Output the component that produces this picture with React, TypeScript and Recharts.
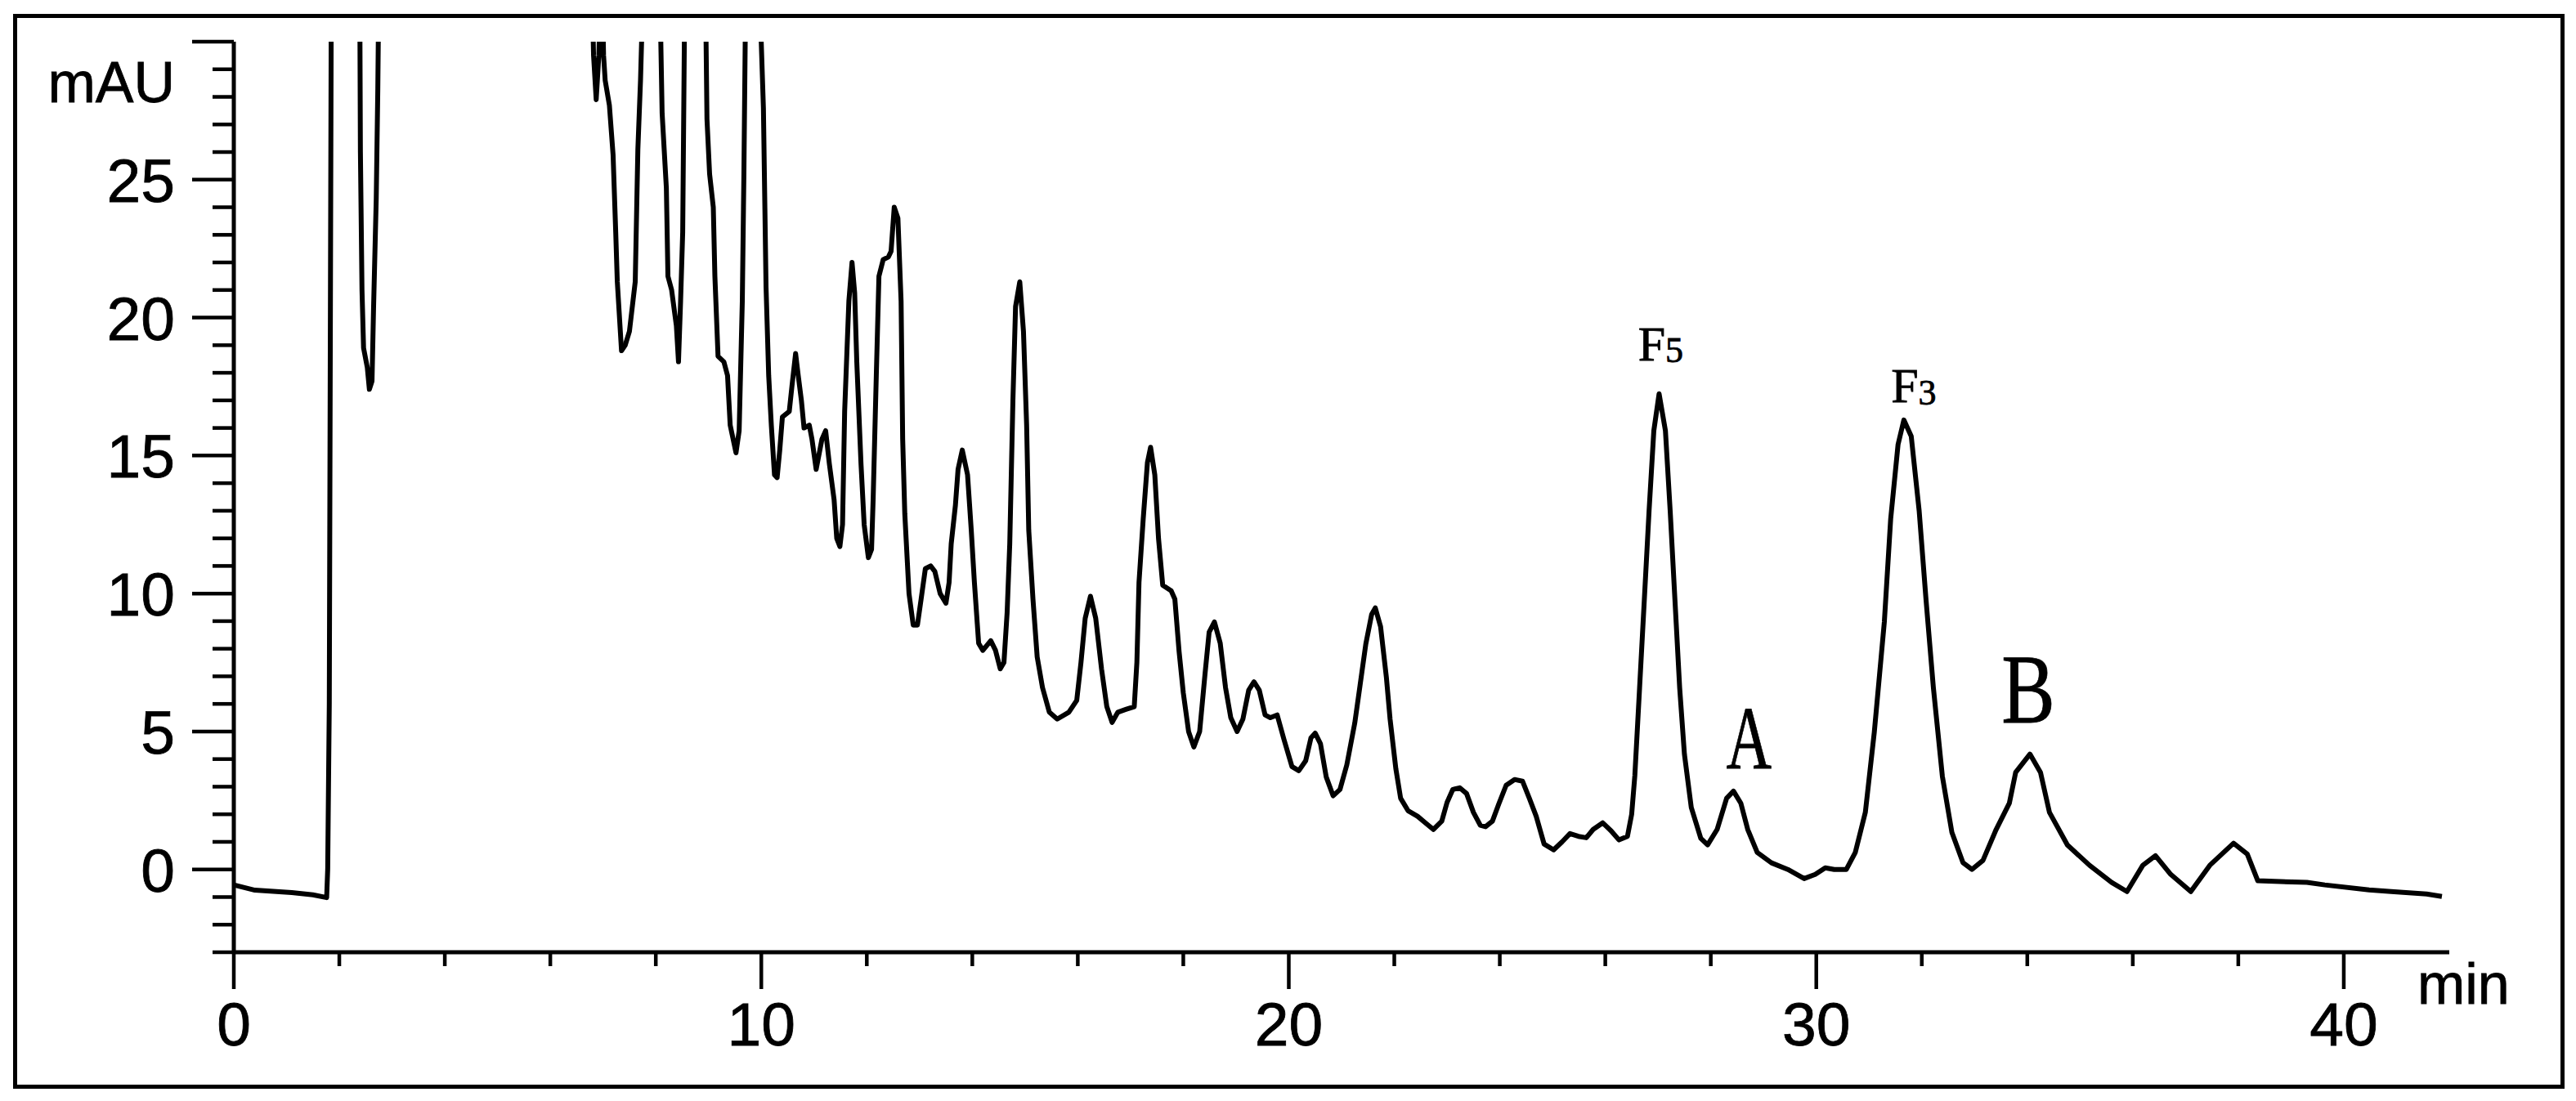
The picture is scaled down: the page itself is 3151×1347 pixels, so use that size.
import React from 'react';
import { LineChart, Line, XAxis, YAxis, ReferenceDot } from 'recharts';

// Retention time (min)
const retentionTimes: number[] = [
  0.00, 0.40, 1.10, 1.50, 1.76, 1.78, 1.81, 1.86, 2.00, 2.20,
  2.36, 2.40, 2.43, 2.46, 2.53, 2.57, 2.62, 2.65, 2.70, 2.73,
  2.77, 3.00, 4.00, 5.00, 6.00, 6.70, 6.78, 6.82, 6.87, 6.92,
  6.97, 7.01, 7.04, 7.12, 7.19, 7.24, 7.27, 7.35, 7.42, 7.50,
  7.61, 7.66, 7.71, 7.76, 7.90, 8.05, 8.09, 8.12, 8.20, 8.23,
  8.30, 8.39, 8.43, 8.47, 8.51, 8.55, 8.70, 8.90, 8.95, 8.97,
  9.02, 9.09, 9.12, 9.18, 9.29, 9.36, 9.41, 9.52, 9.58, 9.64,
  9.67, 9.70, 9.80, 9.95, 9.99, 10.04, 10.09, 10.14, 10.19, 10.25,
  10.30, 10.35, 10.40, 10.53, 10.58, 10.65, 10.70, 10.76, 10.81, 10.91,
  10.96, 11.04, 11.15, 11.22, 11.29, 11.38, 11.43, 11.49, 11.54, 11.58,
  11.66, 11.72, 11.77, 11.81, 11.89, 11.95, 12.03, 12.09, 12.12, 12.18,
  12.23, 12.31, 12.41, 12.46, 12.52, 12.59, 12.65, 12.68, 12.72, 12.80,
  12.88, 12.96, 13.03, 13.11, 13.21, 13.29, 13.39, 13.50, 13.56, 13.60,
  13.68, 13.73, 13.81, 13.91, 13.98, 14.04, 14.12, 14.20, 14.35, 14.44,
  14.53, 14.60, 14.66, 14.71, 14.77, 14.82, 14.90, 14.97, 15.03, 15.07,
  15.15, 15.23, 15.33, 15.46, 15.61, 15.83, 15.98, 16.06, 16.14, 16.24,
  16.34, 16.45, 16.55, 16.65, 16.76, 16.91, 17.07, 17.12, 17.16, 17.24,
  17.32, 17.38, 17.46, 17.53, 17.61, 17.77, 17.84, 17.92, 18.00, 18.10,
  18.20, 18.31, 18.41, 18.49, 18.59, 18.70, 18.80, 18.90, 19.02, 19.13,
  19.24, 19.34, 19.44, 19.55, 19.65, 19.78, 19.91, 20.06, 20.19, 20.32,
  20.42, 20.50, 20.60, 20.71, 20.84, 20.97, 21.10, 21.25, 21.35, 21.46,
  21.57, 21.64, 21.74, 21.85, 21.92, 22.03, 22.12, 22.26, 22.44, 22.59,
  22.74, 22.90, 23.00, 23.11, 23.24, 23.37, 23.50, 23.63, 23.73, 23.86,
  23.98, 24.12, 24.28, 24.43, 24.56, 24.69, 24.84, 25.02, 25.18, 25.33,
  25.49, 25.64, 25.77, 25.95, 26.11, 26.26, 26.42, 26.50, 26.56, 26.65,
  26.74, 26.83, 26.92, 27.02, 27.14, 27.23, 27.32, 27.41, 27.50, 27.63,
  27.81, 27.94, 28.12, 28.30, 28.43, 28.57, 28.70, 28.88, 29.15, 29.46,
  29.77, 29.98, 30.17, 30.34, 30.57, 30.74, 30.93, 31.10, 31.29, 31.41,
  31.55, 31.66, 31.80, 31.95, 32.08, 32.22, 32.39, 32.57, 32.78, 32.95,
  33.16, 33.41, 33.66, 33.78, 34.05, 34.25, 34.42, 34.76, 35.18, 35.60,
  35.89, 36.19, 36.43, 36.72, 37.10, 37.46, 37.91, 38.17, 38.37, 39.30,
  39.64, 40.48, 40.90, 41.57, 41.86,
];

// Absorbance (mAU)
const absorbance: number[] = [
  -0.56, -0.75, -0.84, -0.92, -1.02, 0.0, 6.0, 40, 90, 90,
  45, 26, 21.0, 18.9, 18.2, 17.4, 17.7, 20.4, 24.3, 28.3,
  36, 100, 140, 120, 90, 45, 33, 29.5, 27.9, 29.5,
  33, 29.5, 28.6, 27.7, 25.9, 23.1, 21.3, 18.8, 19.0, 19.5,
  21.3, 26.1, 28.6, 32, 60, 40, 30.5, 27.4, 24.7, 21.5,
  21.0, 19.7, 18.4, 20.6, 23.1, 32, 60, 40, 30.5, 27.2,
  25.2, 24.0, 21.5, 18.6, 18.4, 17.9, 16.1, 15.1, 15.9, 20.6,
  25.2, 31, 60, 50, 30.5, 27.6, 21.1, 17.9, 16.1, 14.3,
  14.2, 15.2, 16.4, 16.6, 17.5, 18.7, 17.9, 17.0, 16.0, 16.1,
  15.6, 14.5, 15.6, 15.9, 14.7, 13.4, 12.0, 11.7, 12.5, 16.6,
  20.6, 22.0, 20.9, 18.4, 14.7, 12.5, 11.3, 11.6, 13.4, 17.9,
  21.5, 22.1, 22.2, 22.4, 24.0, 23.6, 20.6, 15.6, 12.9, 10.0,
  8.86, 8.86, 9.8, 10.9, 11.0, 10.8, 10.0, 9.65, 10.4, 11.8,
  13.2, 14.5, 15.2, 14.3, 12.3, 10.4, 8.2, 7.94, 8.29, 7.94,
  7.27, 7.5, 9.3, 11.8, 17.0, 20.4, 21.3, 19.5, 16.1, 12.3,
  9.8, 7.7, 6.6, 5.7, 5.45, 5.7, 6.13, 7.5, 9.1, 9.9,
  9.1, 7.27, 5.9, 5.33, 5.7, 5.8, 5.9, 7.5, 10.4, 12.7,
  14.75, 15.3, 14.3, 12.0, 10.3, 10.1, 9.8, 7.9, 6.4, 5.0,
  4.44, 5.0, 7.05, 8.6, 8.97, 8.2, 6.6, 5.5, 5.0, 5.45,
  6.5, 6.8, 6.5, 5.6, 5.5, 5.6, 4.7, 3.73, 3.58, 3.94,
  4.77, 4.94, 4.56, 3.35, 2.67, 2.9, 3.79, 5.3, 6.66, 8.17,
  9.24, 9.48, 8.8, 6.96, 5.45, 3.64, 2.58, 2.13, 1.93, 1.69,
  1.45, 1.75, 2.43, 2.9, 2.96, 2.75, 2.07, 1.6, 1.55, 1.75,
  2.37, 3.05, 3.26, 3.2, 2.58, 1.93, 0.92, 0.71, 1.0, 1.3,
  1.2, 1.15, 1.45, 1.69, 1.4, 1.07, 1.2, 2.0, 3.4, 6.58,
  9.78, 13.0, 15.9, 17.24, 15.9, 13.0, 9.78, 6.58, 4.18, 2.25,
  1.13, 0.89, 1.45, 2.58, 2.84, 2.4, 1.45, 0.62, 0.24, 0.0,
  -0.33, -0.18, 0.06, 0.0, 0.0, 0.62, 2.07, 4.98, 8.97, 12.7,
  15.4, 16.29, 15.7, 13.0, 9.78, 6.58, 3.38, 1.35, 0.25, 0.0,
  0.33, 1.45, 2.4, 3.52, 4.18, 3.52, 2.07, 0.89, 0.15, -0.47,
  -0.8, 0.15, 0.5, -0.18, -0.8, 0.15, 0.95, 0.56, -0.41, -0.47,
  -0.56, -0.74, -0.8, -0.89, -0.98,
];

const xTickValues = [0, 2, 4, 6, 8, 10, 12, 14, 16, 18, 20, 22, 24, 26, 28, 30, 32, 34, 36, 38, 40];
const xLabelledTicks = [0, 10, 20, 30, 40];
const yTickValues = [-3, -2, -1, 0, 1, 2, 3, 4, 5, 6, 7, 8, 9, 10, 11, 12, 13, 14, 15, 16, 17, 18, 19, 20, 21, 22, 23, 24, 25, 26, 27, 28, 29, 30];
const yLabelledTicks = [0, 5, 10, 15, 20, 25];
const yMajorTicks = [0, 5, 10, 15, 20, 25, 30];
const yUnit = 'mAU';
const xUnit = 'min';

// Peak annotations
const peakNames = ['F', 'A', 'F', 'B'];
const peakSubs = ['5', '', '3', ''];
const peakTimes = [27.02, 28.43, 31.66, 34.05];
const peakHeights = [17.24, 2.84, 16.29, 4.18];

const SANS = "'Liberation Sans', Arial, sans-serif";
const SERIF = "'Liberation Serif', 'Times New Roman', serif";

const peakLabelStyles = [
  { dx: 2, dy: -41, size: 60, subSize: 44, subDy: 2, sx: 1 },
  { dx: 19, dy: -28, size: 110, subSize: 0, subDy: 0, sx: 0.7 },
  { dx: 12, dy: -22, size: 60, subSize: 44, subDy: 3, sx: 1 },
  { dx: -2, dy: -39, size: 120, subSize: 0, subDy: 0, sx: 0.82 },
];

const renderXTick = (props: any) => {
  const { x, y, payload } = props;
  const val = payload.value;
  const major = xLabelledTicks.includes(val);
  return (
    <g>
      <line x1={x} x2={x} y1={y} y2={y + (major ? 45 : 17)} stroke="#000" strokeWidth={4.5} />
      {major && (
        <text x={x} y={y + 114} textAnchor="middle" fontFamily={SANS} fontSize={75} fill="#000" stroke="#000" strokeWidth={0.8}>
          {val}
        </text>
      )}
      {val === 40 && (
        <text x={x + 90} y={y + 63} textAnchor="start" fontFamily={SANS} fontSize={70} fill="#000" stroke="#000" strokeWidth={0.8}>
          {xUnit}
        </text>
      )}
    </g>
  );
};

const renderYTick = (props: any) => {
  const { x, y, payload } = props;
  const val = payload.value;
  const major = yMajorTicks.includes(val);
  return (
    <g>
      <line x1={x - (major ? 51 : 26)} x2={x} y1={y} y2={y} stroke="#000" strokeWidth={4.5} />
      {yLabelledTicks.includes(val) && (
        <text x={x - 72} y={y} dy="0.36em" textAnchor="end" fontFamily={SANS} fontSize={75} fill="#000" stroke="#000" strokeWidth={0.8}>
          {val}
        </text>
      )}
      {val === 30 && (
        <text x={x - 72} y={y + 74} textAnchor="end" fontFamily={SANS} fontSize={70} fill="#000" stroke="#000" strokeWidth={0.8}>
          {yUnit}
        </text>
      )}
    </g>
  );
};

const makePeakLabel = (i: number) => (props: any) => {
  const vb = props.viewBox || {};
  const cx = (vb.x ?? 0) + (vb.width ?? 0) / 2;
  const cy = (vb.y ?? 0) + (vb.height ?? 0) / 2;
  const s = peakLabelStyles[i];
  return (
    <text
      transform={`translate(${cx + s.dx},${cy + s.dy}) scale(${s.sx},1)`}
      textAnchor="middle"
      fontFamily={SERIF}
      fontSize={s.size}
      fill="#000"
      stroke="#000"
      strokeWidth={0.8}
    >
      {peakNames[i]}
      {peakSubs[i] ? (
        <tspan fontSize={s.subSize} dy={s.subDy}>
          {peakSubs[i]}
        </tspan>
      ) : null}
    </text>
  );
};

export default function App() {
  const data = retentionTimes.map((t, i) => ({ t, v: absorbance[i] }));
  return (
    <div
      style={{
        position: 'absolute',
        left: 0,
        top: 0,
        width: 3151,
        height: 1347,
        background: '#fff',
        overflow: 'hidden',
      }}
    >
      <div
        style={{
          position: 'absolute',
          left: 16,
          top: 17,
          width: 3121,
          height: 1315,
          border: '5px solid #000',
          boxSizing: 'border-box',
        }}
      />
      <LineChart
        width={3151}
        height={1347}
        data={data}
        margin={{ top: 51, right: 155, bottom: 32, left: 86 }}
      >
        <XAxis
          dataKey="t"
          type="number"
          domain={[0, 42]}
          ticks={xTickValues}
          interval={0}
          tickSize={0}
          tickMargin={0}
          tickLine={false}
          axisLine={{ stroke: '#000', strokeWidth: 5 }}
          tick={renderXTick}
          height={150}
        />
        <YAxis
          type="number"
          domain={[-3, 30]}
          allowDataOverflow
          ticks={yTickValues}
          interval={0}
          tickSize={0}
          tickMargin={0}
          tickLine={false}
          axisLine={{ stroke: '#000', strokeWidth: 5 }}
          tick={renderYTick}
          width={200}
        />
        <Line
          dataKey="v"
          type="linear"
          stroke="#000"
          strokeWidth={6}
          strokeLinejoin="round"
          dot={false}
          activeDot={false}
          isAnimationActive={false}
        />
        {peakTimes.map((t, i) => (
          <ReferenceDot
            key={i}
            x={t}
            y={peakHeights[i]}
            r={1}
            fill="none"
            stroke="none"
            ifOverflow="visible"
            label={makePeakLabel(i)}
          />
        ))}
      </LineChart>
    </div>
  );
}
